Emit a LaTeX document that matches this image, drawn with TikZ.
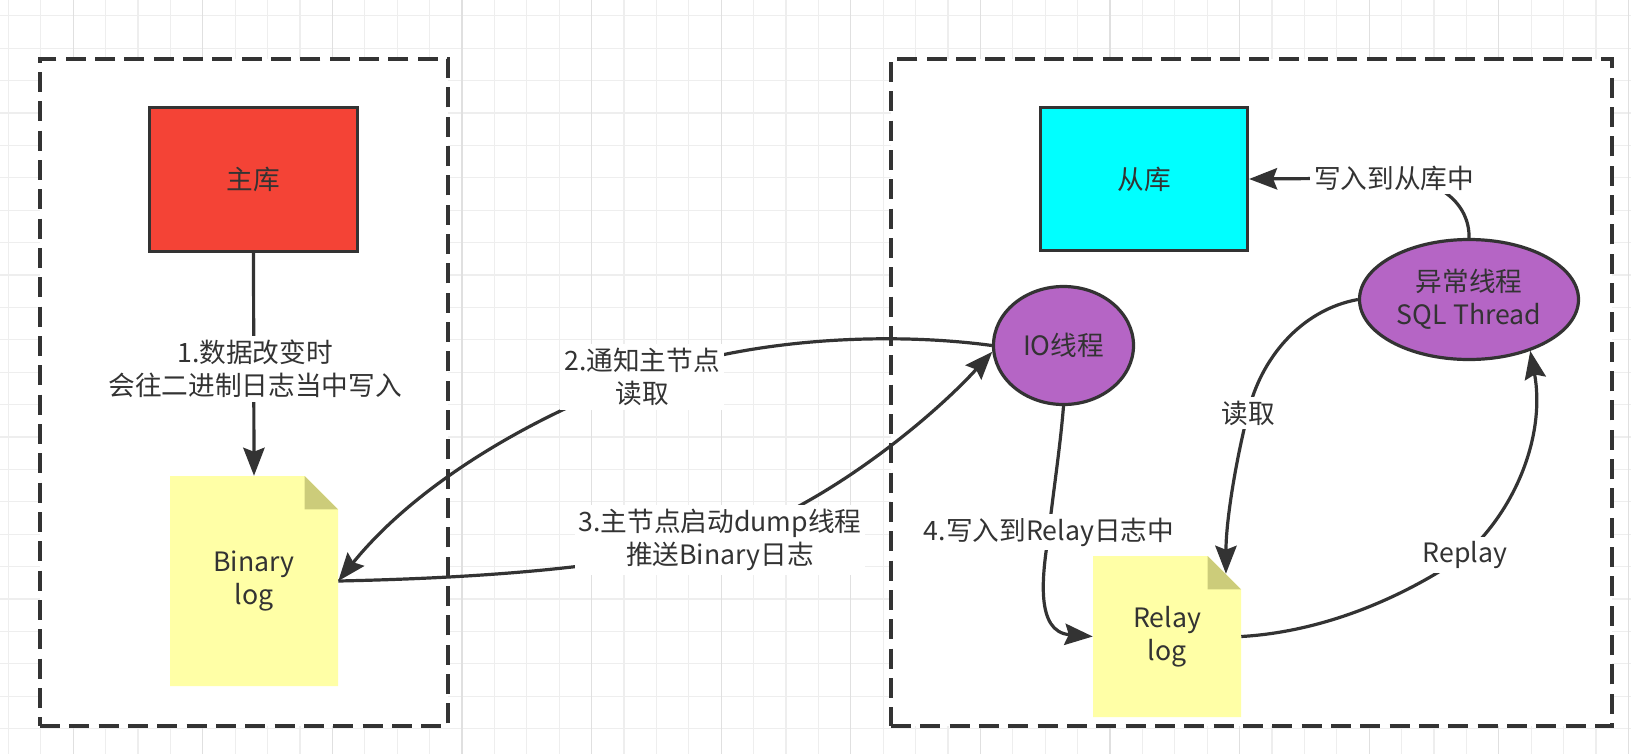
\documentclass[tikz,border=0pt]{standalone}
\usepackage{fontspec}
\setmainfont{Noto Sans CJK SC}
\usetikzlibrary{arrows.meta,shapes.geometric}
\definecolor{ink}{HTML}{333333}
\definecolor{txt}{HTML}{333333}
\definecolor{masterred}{HTML}{F44336}
\definecolor{slavecyan}{HTML}{00FFFF}
\definecolor{threadc}{HTML}{B565C5}
\definecolor{notefill}{HTML}{FFFFA6}
\definecolor{foldfill}{HTML}{CCCC7A}
\definecolor{gridminor}{HTML}{EEEEEE}
\definecolor{gridmajor}{HTML}{E0E0E0}
\begin{document}
\begin{tikzpicture}[x=0.75pt,y=-0.75pt,
  font=\fontsize{20pt}{24.5pt}\selectfont, text=txt,
  group/.style={rectangle, draw=ink, line width=2.6pt, dash pattern=on 15pt off 7pt, fill=white, inner sep=0pt},
  dbbox/.style={rectangle, draw=ink, line width=2.4pt, inner sep=0pt},
  thread/.style={ellipse, draw=ink, line width=2.4pt, fill=threadc, inner sep=0pt, align=center},
  note/.style={rectangle, fill=white, inner sep=0pt, align=center, path picture={
    \fill[notefill] (path picture bounding box.north west) -- ([xshift=-25pt]path picture bounding box.north east) -- ([yshift=-25pt]path picture bounding box.north east) -- (path picture bounding box.south east) -- (path picture bounding box.south west) -- cycle;
    \fill[foldfill] ([xshift=-25pt]path picture bounding box.north east) -- ([xshift=-25pt,yshift=-25pt]path picture bounding box.north east) -- ([yshift=-25pt]path picture bounding box.north east) -- cycle;
  }},
  conn/.style={draw=ink, line width=2.4pt, -{Stealth[length=21pt,width=16pt,inset=3pt]}},
  lbl/.style={fill=white, inner sep=3pt, align=center},
  gridline/.style={line width=0.8pt}
]
\useasboundingbox (0,0) rectangle (1631,754);
\fill[white] (0,0) rectangle (1631,754);
% grid
\foreach \i in {0,...,50} {\draw[gridline, gridminor] ({8.4+32.4*\i},0) -- ({8.4+32.4*\i},754);}
\foreach \i in {0,...,23} {\draw[gridline, gridminor] (0,{15.8+32.4*\i}) -- (1631,{15.8+32.4*\i});}
\foreach \i in {0,...,12} {\draw[gridline, gridmajor] ({73.2+129.6*\i},0) -- ({73.2+129.6*\i},754);}

% groups
\node[group, minimum width=306pt, minimum height=500.25pt] (mastergroup) at (244,392.5) {};
\node[group, minimum width=540.75pt, minimum height=500.25pt] (slavegroup) at (1251.5,392.5) {};

% nodes
\node[dbbox, fill=masterred, minimum width=156pt, minimum height=108pt] (master) at (253.5,179.5) {主库};
\node[dbbox, fill=slavecyan, minimum width=155.25pt, minimum height=107.25pt] (slave) at (1144,179) {从库};
\node[note, minimum width=126pt, minimum height=157.5pt] (binlog) at (254,581) {Binary\\log};
\node[note, minimum width=111pt, minimum height=120.75pt] (relay) at (1167,636.5) {Relay\\log};
\node[thread, minimum width=105pt, minimum height=88.5pt] (io) at (1063.5,345.5) {IO线程};
\node[thread, minimum width=164.25pt, minimum height=90pt] (sql) at (1469,299.5) {异常线程\\SQL Thread};

% label positions
\coordinate (l1) at (255,369);
\coordinate (l2) at (642,377);
\coordinate (l3) at (720,540);
\coordinate (l4) at (1049,532);
\coordinate (l5) at (1248,413);
\coordinate (l6) at (1465,555);
\coordinate (l7) at (1394,178);
\coordinate (relayfold) at ([xshift=-11.5pt,yshift=-13.5pt]relay.north east);

% connectors
\draw[conn] (master.south) -- (binlog.north);
\draw[conn] (io.west) .. controls (900,333) and (760,335) .. (l2)
  .. controls (540,413) and (420,480) .. (binlog.east);
\draw[conn] (binlog.east) .. controls (480,578) and (620,568) .. (l3)
  .. controls (820,510) and (930,420) .. (io.185);
\draw[conn] (io.south) .. controls (1060,450) and (1052,500) .. (l4)
  .. controls (1042,575) and (1035,632) .. (relay.west);
\draw[conn] (sql.west) .. controls (1300,310) and (1260,360) .. (l5)
  .. controls (1236,460) and (1226,520) .. (relayfold);
\draw[conn] (relay.east) .. controls (1320,632) and (1400,600) .. (l6)
  .. controls (1520,505) and (1545,430) .. (sql.-40);
\draw[conn] (sql.north) .. controls (1470,205) and (1440,178) .. (l7) -- (slave.east);

% labels
\node[lbl] (lab1) at (l1) {1.数据改变时\\会往二进制日志当中写入};
\node[lbl] (lab2) at (l2) {2.通知主节点\\读取};
\node[lbl] (lab3) at (l3) {3.主节点启动dump线程\\推送Binary日志};
\node[lbl] (lab4) at (l4) {4.写入到Relay日志中};
\node[lbl] (lab5) at (l5) {读取};
\node[lbl] (lab6) at (l6) {Replay};
\node[lbl] (lab7) at (l7) {写入到从库中};
\end{tikzpicture}
\end{document}
